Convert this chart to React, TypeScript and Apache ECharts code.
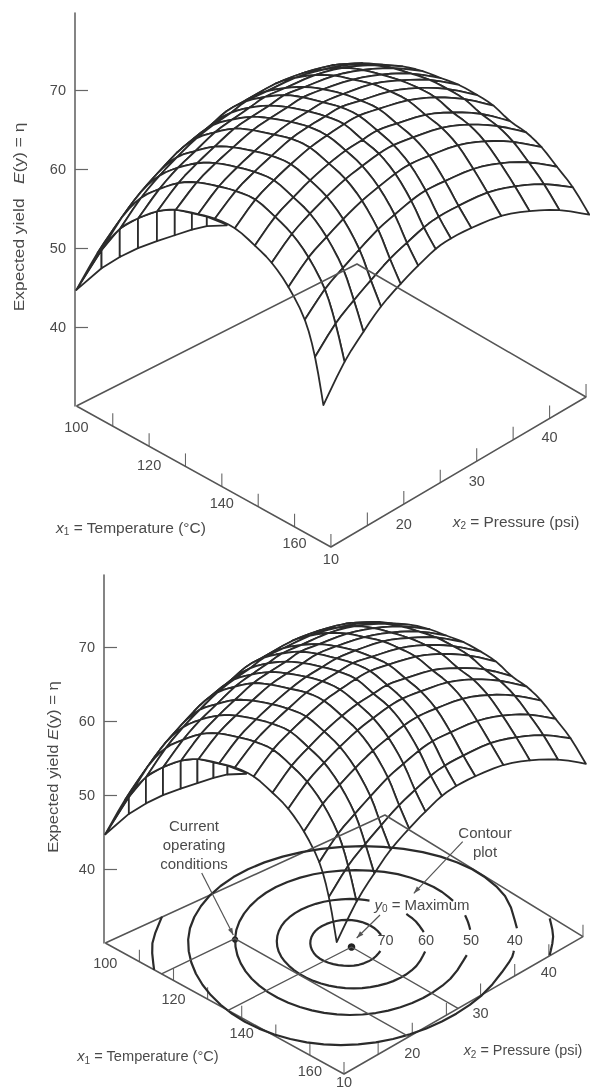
import React, { useEffect, useRef } from "react";
import * as echarts from "echarts";

// ---- values ----
const etaTicks = [40, 50, 60, 70];
const x1TickMarks = [110, 120, 130, 140, 150, 160];
const x2TickMarks = [10, 15, 20, 25, 30, 35, 40, 45];
const x1TickLabels = [100, 120, 140, 160];
const x2TickLabels = [10, 20, 30, 40];

// mesh lines of the response surface
const x1AtLowPressure = [100, 106.9, 112, 117, 122.2, 127.3, 133.4, 138, 143.5, 149, 153.6, 158.2, 162.7, 165.5, 167.8];
const x1AtHighPressure = [100, 105.5, 111, 116.5, 122, 127, 132, 137, 141.5, 146, 150.4, 154.7, 158.9, 163.3, 167.8];
const x2Lines = [10, 12.9, 15.5, 17.9, 20.6, 23, 25.4, 27.5, 30.3, 34.4, 38.3, 42.4, 46.5];

// expected yield at each mesh node: one row per x1 line, one column per x2 line
const yieldTable = [
  [44.7, 47.8, 49.9, 51.4, 52.9, 53.7, 54.4, 55.1, 55.4, 55.7, 55.4, 54.6, 53.2],
  [51.5, 54.1, 55.8, 56.9, 58, 58.5, 58.9, 59.4, 59.3, 59.1, 58.3, 57, 55],
  [55.5, 57.8, 59.2, 60.2, 61.1, 61.5, 61.7, 62, 61.7, 61.2, 60.1, 58.5, 56.2],
  [58.1, 60.2, 61.5, 62.3, 63.2, 63.5, 63.7, 63.9, 63.5, 62.9, 61.7, 59.8, 57.4],
  [60.3, 62.3, 63.4, 64.2, 65, 65.2, 65.3, 65.5, 65, 64.2, 62.8, 60.8, 58.2],
  [61.8, 63.7, 64.7, 65.4, 66.1, 66.3, 66.4, 66.5, 66, 65, 63.5, 61.4, 58.6],
  [62.8, 64.7, 65.7, 66.4, 67, 67.3, 67.3, 67.3, 66.8, 65.8, 64.1, 61.9, 59],
  [63.4, 65.3, 66.3, 67, 67.7, 67.9, 67.9, 67.9, 67.2, 66.1, 64.4, 62, 59],
  [63.6, 65.6, 66.6, 67.3, 67.9, 68.1, 68.2, 68.1, 67.4, 66.2, 64.4, 61.9, 58.8],
  [62.8, 64.8, 65.8, 66.6, 67.2, 67.5, 67.5, 67.5, 66.8, 65.6, 63.7, 61.2, 58],
  [61.8, 63.8, 64.9, 65.7, 66.4, 66.7, 66.9, 66.8, 66.2, 65.1, 63.3, 60.8, 57.7],
  [59.9, 62, 63.1, 64, 64.8, 65.2, 65.5, 65.5, 65, 64, 62.3, 59.9, 56.9],
  [56.9, 59.1, 60.3, 61.3, 62.3, 62.8, 63.2, 63.3, 62.9, 62.1, 60.6, 58.4, 55.5],
  [52.9, 55.5, 57, 58.2, 59.4, 60.1, 60.7, 60.9, 60.7, 60.1, 58.7, 56.7, 54],
  [47.4, 51.3, 53.7, 55.6, 57, 58, 58.8, 59, 58.8, 58.1, 56.6, 54.5, 51.7],
];

// the underside seen below the low-pressure edge
const lipX1 = [100, 106.9, 111.9, 116.9, 122.1, 127, 131.7, 135.8, 141.3];
const lipUpperYield = [44.7, 51.5, 55.5, 58.1, 60.3, 61.8, 62.5, 63.1, 63.5];
const lipLowerYield = [44.7, 49.2, 51.9, 54.3, 56.5, 58.5, 60.4, 61.9, 63.4];

// contours in the floor of the lower plot: each arc is [x1 list, x2 list]
const contour70 = [[143.6, 144.5, 143.9, 141.8, 138.8, 135.3, 132, 129.6, 128.4, 128.8, 130.5, 133.4, 136.9, 139.6], [28.5, 26.9, 25.2, 24, 23.3, 23.3, 24.1, 25.4, 27, 28.7, 30.1, 30.9, 31, 30.6]];
const contour60a = [[150.5, 152.9, 153.5, 152.2, 149.2, 144.7, 139.3, 133.6, 128.4, 124.2, 121.6, 121, 122.4, 125.6, 129], [31.6, 29.1, 26.4, 23.9, 21.8, 20.4, 19.8, 20.1, 21.2, 23.1, 25.5, 28.2, 30.8, 33, 34.2]];
const contour60b = [[138, 141.4, 145.3], [35.1, 34.8, 34]];
const contour50a = [[157.7, 161.3, 162.1, 160.1, 155.4, 148.5, 140.1, 131.3, 123.1, 116.4, 112.4, 111.4, 113.8, 119.1, 126.5, 135.2, 141.7], [34.1, 29.9, 25.5, 21.4, 18.1, 16, 15.2, 15.8, 17.8, 21, 25, 29.3, 33.6, 37.1, 39.6, 40.5, 40.1]];
const contour50b = [[147.2, 149.5, 151.7], [39.1, 38.4, 37.6]];
const contour40 = [[163.7, 166, 170.3, 171, 168.1, 161.8, 152.6, 141.3, 129.3, 118, 109, 103.6, 102.6, 106.3, 114, 124.6, 136.5, 148.3, 158.4], [38, 36.1, 30, 23.8, 18.1, 13.6, 10.8, 9.8, 10.8, 13.6, 17.9, 23.5, 29.6, 35.6, 40.7, 44.2, 45.5, 44.4, 41.1]];
const contourOuterLeft = [[101.8, 107.2, 114.3], [17.4, 13.3, 10]];
const contourOuterRight = [[160.8, 166, 170.2], [44.7, 42.6, 40]];
const contours = [contour70, contour60a, contour60b, contour50a, contour50b, contour40, contourOuterLeft, contourOuterRight];

const contourLabels = ["70", "60", "50", "40"];
const maximumPoint = [136, 26.7];
const currentPoint = [116.5, 19.5];
const frontX1 = 170;
const frontX2 = 10;
const backX1 = 100;
const backX2 = 45;

// ---- layout ----
const FONT = "Liberation Sans";
const TEXT = "#4a4a4a";
const INK = "#2b2b2b";
const AXIS = "#666";

const panels = [
  {
    left: 75, top: 13, height: 393, yMax: 79.75,
    ox: 76.4, oy: 406, k: 7.9, scale: 1, tick: 13,
    surf: { a: 3.643, b: 7.286, d: 2.014, e: -4.286 },
    floor: { a: 3.636, b: 8.017, c: -0.0104, d: 2.014, e: -4.057, f: -0.00327 },
    x1Drop: [21, 19, 16, 16], x2Drop: [12, 20, 20, 19],
  },
  {
    left: 104, top: 575, height: 368, yMax: 79.73,
    ox: 105.3, oy: 943, k: 7.4, scale: 0.937, tick: 12,
    surf: { a: 3.413, b: 6.827, d: 1.887, e: -4.016 },
    floor: { a: 3.41, b: 7.99, c: -0.0166, d: 1.871, e: -3.657, f: -0.0038 },
    x1Drop: [20, 18.5, 15.5, 15.5], x2Drop: [8.5, 18, 17, 16],
  },
];

type Panel = (typeof panels)[number];

const surfacePoint = (p: Panel, x1: number, x2: number, eta: number) => {
  const s = x1 - 100, t = x2 - 10;
  return [p.ox + p.surf.a * s + p.surf.b * t, eta - (p.surf.d * s + p.surf.e * t) / p.k];
};
const floorPoint = (p: Panel, x1: number, x2: number) => {
  const s = x1 - 100, t = x2 - 10, g = p.floor;
  return [p.ox + g.a * s + g.b * t + g.c * s * t, 30 - (g.d * s + g.e * t + g.f * s * t) / p.k];
};
const meshPoint = (p: Panel, i: number, j: number) => {
  const v = (x2Lines[j] - 10) / 36.5;
  const x1 = x1AtLowPressure[i] * (1 - v) + x1AtHighPressure[i] * v;
  return surfacePoint(p, x1, x2Lines[j], yieldTable[i][j]);
};

// rounds a line between nodes b and c the way a smooth option would, through the nodes only
const rounded = (a: number[], b: number[], c: number[], d: number[]) =>
  [1 / 3, 2 / 3].map((f) =>
    [0, 1].map((n) =>
      0.5 * (2 * b[n] + (c[n] - a[n]) * f + (2 * a[n] - 5 * b[n] + 4 * c[n] - d[n]) * f * f + (3 * b[n] - a[n] - 3 * c[n] + d[n]) * f * f * f)
    )
  );

const roundedPath = (pts: number[][]) => {
  const at = (n: number) => pts[Math.max(0, Math.min(pts.length - 1, n))];
  const out: number[][] = [];
  for (let n = 0; n < pts.length - 1; n++) {
    out.push(at(n), ...rounded(at(n - 1), at(n), at(n + 1), at(n + 2)));
  }
  out.push(at(pts.length - 1));
  return out;
};

const custom = (gridIndex: number, items: any[], draw: (item: any, api: any) => any, z = 2) => ({
  type: "custom",
  xAxisIndex: gridIndex,
  yAxisIndex: gridIndex,
  coordinateSystem: "cartesian2d",
  silent: true,
  clip: false,
  z,
  data: items.map((_: any, k: number) => [k, k]),
  renderItem: (params: any, api: any) => draw(items[params.dataIndex], api),
});

const path = (gridIndex: number, pts: number[][], width: number, color: string) => ({
  type: "line",
  xAxisIndex: gridIndex,
  yAxisIndex: gridIndex,
  data: pts,
  showSymbol: false,
  silent: true,
  clip: false,
  lineStyle: { width, color },
});

const polygonOf = (api: any, pts: number[][]) => ({
  type: "polygon",
  shape: { points: pts.map((q) => api.coord(q)) },
  style: { fill: "#fff", stroke: INK, lineWidth: 1.8, lineJoin: "round" },
});

const label = (api: any, at: number[], dy: number, text: string) => {
  const c = api.coord(at);
  return {
    type: "text",
    x: c[0],
    y: c[1] + dy,
    style: { text, align: "center", verticalAlign: "middle", textAlign: "center", textVerticalAlign: "middle", fontFamily: FONT, fontSize: 14.5, fill: TEXT },
  };
};

const panelSeries = (p: Panel, g: number) => {
  const out: any[] = [];
  // floor outline
  out.push(path(g, [floorPoint(p, backX1, frontX2), floorPoint(p, frontX1, frontX2), floorPoint(p, frontX1, backX2), floorPoint(p, backX1, backX2), floorPoint(p, backX1, frontX2)], 1.6, "#555"));
  // ticks on the floor edges
  const tickBases = [
    ...x1TickMarks.map((x1) => floorPoint(p, x1, frontX2)),
    ...x2TickMarks.map((x2) => floorPoint(p, frontX1, x2)),
  ];
  out.push(custom(g, tickBases, (q, api) => {
    const c = api.coord(q);
    return { type: "line", shape: { x1: c[0], y1: c[1], x2: c[0], y2: c[1] - p.tick }, style: { stroke: "#666", lineWidth: 1.1 } };
  }));
  // tick labels
  const labelItems = [
    ...x1TickLabels.map((x1, n) => ({ at: floorPoint(p, x1, frontX2), dy: p.x1Drop[n], text: String(x1) })),
    ...x2TickLabels.map((x2, n) => ({ at: floorPoint(p, frontX1, x2), dy: p.x2Drop[n], text: String(x2) })),
  ];
  out.push(custom(g, labelItems, (q, api) => label(api, q.at, q.dy, q.text), 5));

  if (g === 1) {
    contours.forEach(([x1s, x2s]) => {
      out.push(path(g, roundedPath(x1s.map((x1, n) => surfacePoint(p, x1, x2s[n], 30))), 2.2, INK));
    });
    // guide lines through the two marked operating points
    [maximumPoint, currentPoint].forEach(([x1, x2]) => {
      out.push(path(g, [floorPoint(p, x1, frontX2), floorPoint(p, x1, x2), floorPoint(p, frontX1, x2)], 1.4, "#555"));
    });
    out.push(custom(g, [maximumPoint, currentPoint], (q, api) => {
      const c = api.coord(floorPoint(p, q[0], q[1]));
      return { type: "circle", shape: { cx: c[0], cy: c[1], r: q === maximumPoint ? 3.8 : 3.2 }, style: { fill: "#222" } };
    }, 3));
  }

  // the underside strip, then the surface, back to front
  const lipCells: number[][][] = [];
  for (let n = 0; n < lipX1.length - 1; n++) {
    lipCells.push([
      surfacePoint(p, lipX1[n], 10, lipUpperYield[n]),
      surfacePoint(p, lipX1[n + 1], 10, lipUpperYield[n + 1]),
      surfacePoint(p, lipX1[n + 1], 10, lipLowerYield[n + 1]),
      surfacePoint(p, lipX1[n], 10, lipLowerYield[n]),
    ]);
  }
  out.push(custom(g, lipCells, (q, api) => polygonOf(api, q), 3));

  const I = yieldTable.length - 1, J = x2Lines.length - 1;
  const node = (i: number, j: number) => meshPoint(p, Math.max(0, Math.min(I, i)), Math.max(0, Math.min(J, j)));
  const alongI = (i: number, j: number) => rounded(node(i - 1, j), node(i, j), node(i + 1, j), node(i + 2, j));
  const alongJ = (i: number, j: number) => rounded(node(i, j - 1), node(i, j), node(i, j + 1), node(i, j + 2));
  const cells: number[][][] = [];
  for (let i = 0; i < I; i++) {
    for (let j = J - 1; j >= 0; j--) {
      cells.push([
        node(i, j), ...alongI(i, j),
        node(i + 1, j), ...alongJ(i + 1, j),
        node(i + 1, j + 1), ...alongI(i, j + 1).reverse(),
        node(i, j + 1), ...alongJ(i, j).reverse(),
      ]);
    }
  }
  out.push(custom(g, cells, (q, api) => polygonOf(api, q), 3));
  return out;
};

const textEl = (x: number, y: number, text: string, extra: any = {}) => ({
  type: "text",
  x,
  y,
  z: 20,
  rotation: extra.rotation || 0,
  scaleX: extra.scaleX || 1,
  style: {
    text,
    align: extra.align || "center",
    textAlign: extra.align || "center",
    verticalAlign: "middle",
    textVerticalAlign: "middle",
    fontFamily: FONT,
    fontSize: extra.fontSize || 14,
    fill: TEXT,
    rich: {
      i: { fontFamily: FONT, fontStyle: "italic", fontSize: extra.fontSize || 14, fill: TEXT, lineHeight: 18 },
      t: { fontFamily: FONT, fontSize: extra.fontSize || 14, fill: TEXT, lineHeight: 18 },
      s: { fontFamily: FONT, fontSize: 10, fill: TEXT, verticalAlign: "bottom", lineHeight: 18 },
    },
  },
});

const lineEl = (x1: number, y1: number, x2: number, y2: number) => ({
  type: "line",
  z: 20,
  shape: { x1, y1, x2, y2 },
  style: { stroke: "#555", lineWidth: 1.2 },
});

const headEl = (x1: number, y1: number, x2: number, y2: number) => {
  const len = Math.hypot(x2 - x1, y2 - y1);
  const ux = (x2 - x1) / len, uy = (y2 - y1) / len;
  return {
    type: "polygon",
    z: 20,
    shape: { points: [[x2, y2], [x2 - 7 * ux - 2.4 * uy, y2 - 7 * uy + 2.4 * ux], [x2 - 7 * ux + 2.4 * uy, y2 - 7 * uy - 2.4 * ux]] },
    style: { fill: "#555" },
  };
};

const arrows = [
  [462.7, 841.7, 413.8, 893.3],
  [380, 915, 356.7, 938],
  [201.7, 873, 233.3, 935],
];

const contourLabelSpots = [[385.6, 940], [426, 940], [471, 940], [514.7, 939.5]];

const graphics = [
  textEl(19, 217, "{t|Expected yield   }{i|E}{t|(y) = η}", { rotation: Math.PI / 2, fontSize: 14, scaleX: 1.24 }),
  textEl(52.5, 767, "{t|Expected yield }{i|E}{t|(y) = η}", { rotation: Math.PI / 2, fontSize: 14, scaleX: 1.19 }),
  textEl(131, 527, "{i|x}{s|1}{t| = Temperature (°C)}", { fontSize: 15.5 }),
  textEl(516, 521, "{i|x}{s|2}{t| = Pressure (psi)}", { fontSize: 15.4 }),
  textEl(148, 1056, "{i|x}{s|1}{t| = Temperature (°C)}", { fontSize: 14.6 }),
  textEl(523, 1050, "{i|x}{s|2}{t| = Pressure (psi)}", { fontSize: 14.4 }),
  textEl(194, 825, "Current", { fontSize: 15 }),
  textEl(194, 844, "operating", { fontSize: 15 }),
  textEl(194, 863, "conditions", { fontSize: 15 }),
  textEl(485, 832, "Contour", { fontSize: 15 }),
  textEl(485, 851, "plot", { fontSize: 15 }),
  textEl(422, 904, "{i|y}{s|0}{t| = Maximum}", { fontSize: 15 }),
  ...contourLabels.map((t, n) => textEl(contourLabelSpots[n][0], contourLabelSpots[n][1], t, { fontSize: 14.5 })),
  ...arrows.map(([a, b, c, d]) => lineEl(a, b, c, d)),
  ...arrows.map(([a, b, c, d]) => headEl(a, b, c, d)),
];

export default function App() {
  const ref = useRef<HTMLDivElement>(null);
  useEffect(() => {
    const chart = echarts.init(ref.current!, undefined, { renderer: "svg" });
    chart.setOption({
      animation: false,
      backgroundColor: "#fff",
      grid: panels.map((p) => ({ left: p.left, top: p.top, width: 590 - p.left, height: p.height })),
      xAxis: panels.map((p, g) => ({ type: "value", gridIndex: g, min: p.left, max: 590, show: false })),
      yAxis: panels.map((p, g) => ({
        type: "value",
        gridIndex: g,
        min: 30,
        max: p.yMax,
        axisLine: { show: true, lineStyle: { color: AXIS, width: 1.6 } },
        axisTick: { show: true, inside: true, length: 13, customValues: etaTicks, lineStyle: { color: AXIS, width: 1.2 } },
        axisLabel: { show: true, customValues: etaTicks, margin: 9, color: TEXT, fontFamily: FONT, fontSize: 14.5 },
        splitLine: { show: false },
      })),
      series: panels.flatMap((p, g) => panelSeries(p, g)),
      graphic: graphics,
    });
    return () => chart.dispose();
  }, []);
  return (
    <div
      ref={ref}
      style={{ position: "absolute", left: 0, top: 0, width: 590, height: 1090, filter: "blur(0.7px)" }}
    />
  );
}
